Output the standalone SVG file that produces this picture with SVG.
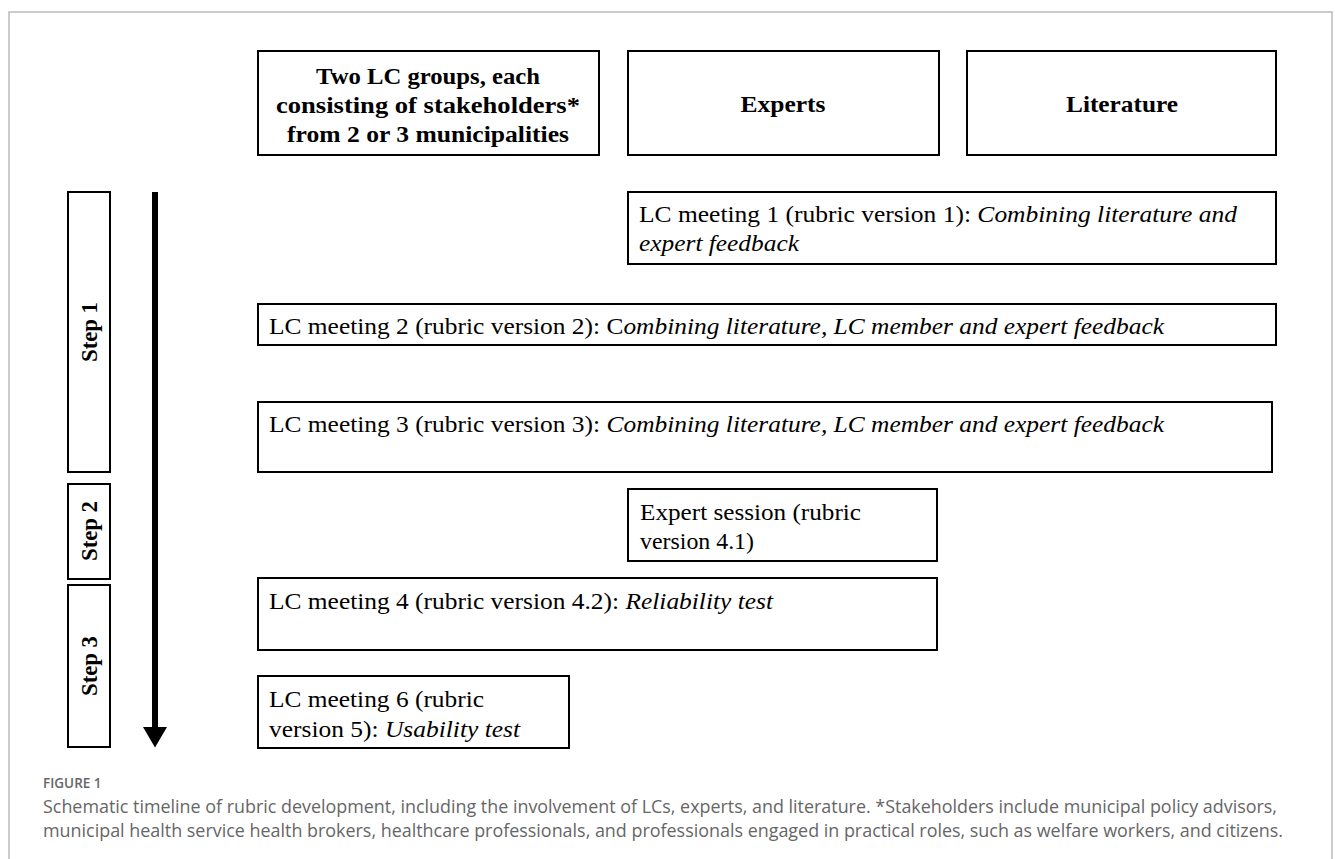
<svg xmlns="http://www.w3.org/2000/svg" width="1335" height="859" viewBox="0 0 1335 859">
<style>
.box{fill:#fff;stroke:#000;stroke-width:2}
.hd{font-family:'Liberation Serif',Tinos,'Times New Roman',Times,serif;font-weight:bold;font-size:22.5px;text-anchor:middle}
.tx{font-family:'Liberation Serif',Tinos,'Times New Roman',Times,serif;font-size:22.5px}
.it{font-style:italic}
.st{font-family:'Liberation Serif',Tinos,'Times New Roman',Times,serif;font-weight:bold;font-size:22.5px;text-anchor:middle}
.cap{font-family:"Open Sans","Noto Sans",sans-serif;fill:#666}
</style>
<defs>
<marker id="ah" markerWidth="4" markerHeight="4" refX="0" refY="2" orient="auto" markerUnits="strokeWidth">
<path d="M0,0 L3.4,2 L0,4 Z" fill="#000"/>
</marker>
</defs>
<rect x="9" y="12" width="1323" height="860" fill="none" stroke="#bbb" stroke-width="1.5"/>
<g id="connectors">
<line x1="155" y1="192" x2="155" y2="727" stroke="#000" stroke-width="6" marker-end="url(#ah)"/>
</g>
<g id="h-lc">
<rect class="box" x="258" y="51" width="341" height="104"/>
<text class="hd" x="428" y="84" textLength="224" lengthAdjust="spacingAndGlyphs">Two LC groups, each</text>
<text class="hd" x="428" y="113" textLength="304" lengthAdjust="spacingAndGlyphs">consisting of stakeholders*</text>
<text class="hd" x="428" y="142" textLength="282" lengthAdjust="spacingAndGlyphs">from 2 or 3 municipalities</text>
</g>
<g id="h-experts">
<rect class="box" x="628" y="51" width="311" height="104"/>
<text class="hd" x="783" y="112" textLength="85" lengthAdjust="spacingAndGlyphs">Experts</text>
</g>
<g id="h-lit">
<rect class="box" x="967" y="51" width="309" height="104"/>
<text class="hd" x="1122" y="112" textLength="112" lengthAdjust="spacingAndGlyphs">Literature</text>
</g>
<g id="step1">
<rect class="box" x="68" y="192" width="42" height="280"/>
<text class="st" transform="translate(97,332) rotate(-90)" textLength="60" lengthAdjust="spacingAndGlyphs">Step 1</text>
</g>
<g id="step2">
<rect class="box" x="68" y="484" width="42" height="95"/>
<text class="st" transform="translate(97,531) rotate(-90)" textLength="60" lengthAdjust="spacingAndGlyphs">Step 2</text>
</g>
<g id="step3">
<rect class="box" x="68" y="585" width="42" height="162"/>
<text class="st" transform="translate(97,666) rotate(-90)" textLength="60" lengthAdjust="spacingAndGlyphs">Step 3</text>
</g>
<g id="m1">
<rect class="box" x="628" y="192" width="648" height="72"/>
<text class="tx" x="639" y="222" textLength="598" lengthAdjust="spacingAndGlyphs">LC meeting 1 (rubric version 1): <tspan class="it">Combining literature and</tspan></text>
<text class="tx it" x="639" y="251" textLength="160" lengthAdjust="spacingAndGlyphs">expert feedback</text>
</g>
<g id="m2">
<rect class="box" x="258" y="304" width="1018" height="41"/>
<text class="tx" x="269" y="334" textLength="895" lengthAdjust="spacingAndGlyphs">LC meeting 2 (rubric version 2): C<tspan class="it">ombining literature, LC member and expert feedback</tspan></text>
</g>
<g id="m3">
<rect class="box" x="258" y="402" width="1014" height="70"/>
<text class="tx" x="269" y="432" textLength="895" lengthAdjust="spacingAndGlyphs">LC meeting 3 (rubric version 3): <tspan class="it">Combining literature, LC member and expert feedback</tspan></text>
</g>
<g id="expert">
<rect class="box" x="628" y="489" width="309" height="72"/>
<text class="tx" x="640" y="520" textLength="221" lengthAdjust="spacingAndGlyphs">Expert session (rubric</text>
<text class="tx" x="640" y="549" textLength="114" lengthAdjust="spacingAndGlyphs">version 4.1)</text>
</g>
<g id="m4">
<rect class="box" x="258" y="578" width="679" height="72"/>
<text class="tx" x="269" y="609" textLength="504" lengthAdjust="spacingAndGlyphs">LC meeting 4 (rubric version 4.2): <tspan class="it">Reliability test</tspan></text>
</g>
<g id="m6">
<rect class="box" x="258" y="676" width="311" height="72"/>
<text class="tx" x="269" y="707" textLength="215" lengthAdjust="spacingAndGlyphs">LC meeting 6 (rubric</text>
<text class="tx" x="269" y="737" textLength="251" lengthAdjust="spacingAndGlyphs">version 5): <tspan class="it">Usability test</tspan></text>
</g>
<g id="caption">
<text class="cap" x="43" y="788" font-size="13.5" font-weight="600" fill="#777">FIGURE 1</text>
<text class="cap" x="43" y="813" font-size="17.5" textLength="1234" lengthAdjust="spacingAndGlyphs">Schematic timeline of rubric development, including the involvement of LCs, experts, and literature. *Stakeholders include municipal policy advisors,</text>
<text class="cap" x="43" y="837" font-size="17.5" textLength="1240" lengthAdjust="spacingAndGlyphs">municipal health service health brokers, healthcare professionals, and professionals engaged in practical roles, such as welfare workers, and citizens.</text>
</g>
</svg>
